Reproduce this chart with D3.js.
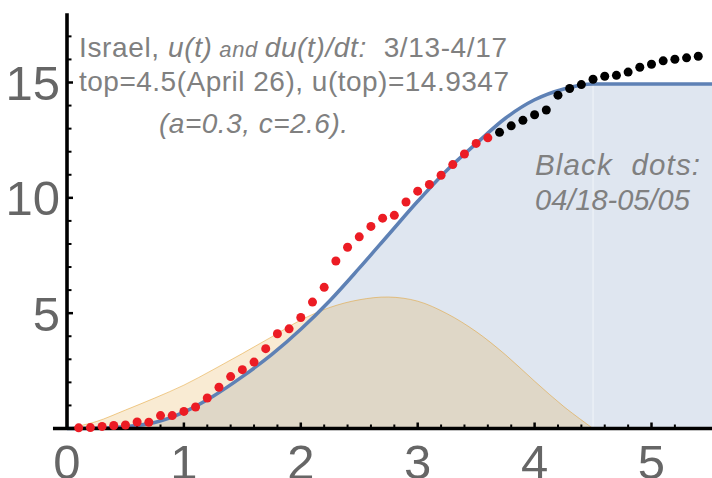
<!DOCTYPE html>
<html>
<head>
<meta charset="utf-8">
<script src="https://cdn.jsdelivr.net/npm/d3@7"></script>
<style>
  html, body { margin: 0; padding: 0; background: #fff; }
  svg { display: block; font-family: "Liberation Sans", Arial, sans-serif; }
  text { white-space: pre; }
</style>
</head>
<body>
<svg id="chart" width="712" height="478"></svg>
<script>
const width = 712;
const height = 478;

// model curve u(t)
const curveT = [0, 0.25, 0.5, 0.75, 1, 1.25, 1.5, 1.75, 2, 2.25, 2.5, 2.75, 3, 3.25, 3.5, 3.75, 4, 4.25, 4.5, 5.52];
const curveU = [0, 0.02, 0.08, 0.26, 0.71, 1.4, 2.25, 3.2, 4.3, 5.55, 6.95, 8.4, 9.85, 11.2, 12.35, 13.45, 14.25, 14.72, 14.9347, 14.9347];

// derivative du/dt
const derivT = [0, 0.25, 0.5, 0.75, 1, 1.25, 1.5, 1.75, 2, 2.25, 2.5, 2.75, 3, 3.25, 3.5, 3.75, 4, 4.25, 4.5];
const derivU = [0, 0.3, 0.8, 1.32, 1.88, 2.55, 3.25, 3.97, 4.7, 5.25, 5.58, 5.7, 5.52, 4.98, 4.2, 3.2, 2.05, 0.95, 0];

// data 3/13-4/17 (red)
const redT = [0.1, 0.2, 0.3, 0.4, 0.5, 0.6, 0.7, 0.8, 0.9, 1.0, 1.1, 1.2, 1.3, 1.4, 1.5, 1.6, 1.7, 1.8,
  1.9, 2.0, 2.1, 2.2, 2.3, 2.4, 2.5, 2.6, 2.7, 2.8, 2.9, 3.0, 3.1, 3.2, 3.3, 3.4, 3.5, 3.6];
const redU = [0.03, 0.04, 0.09, 0.13, 0.15, 0.28, 0.27, 0.56, 0.56, 0.74, 0.93, 1.32, 1.79, 2.25, 2.55, 2.88, 3.46, 4.11,
  4.32, 4.81, 5.48, 6.12, 7.26, 7.86, 8.31, 8.76, 9.12, 9.24, 9.82, 10.29, 10.58, 10.98, 11.44, 11.9, 12.36, 12.6];

// data 04/18-05/05 (black)
const blackT = [3.7, 3.8, 3.9, 4.0, 4.1, 4.2, 4.3, 4.4, 4.5, 4.6, 4.7, 4.8, 4.9, 5.0, 5.1, 5.2, 5.3, 5.4];
const blackU = [12.84, 13.12, 13.36, 13.6, 13.81, 14.45, 14.74, 14.91, 15.14, 15.27, 15.31, 15.45, 15.66, 15.79, 15.94, 16.01, 16.07, 16.14];

const xTicks = [0, 1, 2, 3, 4, 5];
const yTicks = [5, 10, 15];
const topT = 4.5;
const topU = 14.9347;

const x = d3.scaleLinear().domain([0, 5]).range([67, 651.5]);
const y = d3.scaleLinear().domain([0, 15]).range([428.5, 82.5]);
const xMin = -0.12, xMax = 5.52, yMax = 18;

const svg = d3.select("#chart");

const zip = (ts, us) => ts.map((t, i) => [t, us[i]]);

const area = d3.area()
  .x(d => x(d[0]))
  .y0(y(0))
  .y1(d => y(d[1]));
const line = d3.line()
  .x(d => x(d[0]))
  .y(d => y(d[1]));

const blue = "#5E81B5";
const orange = "#E19C24";

// fills
svg.append("path")
  .datum(zip(curveT, curveU))
  .attr("d", area.curve(d3.curveMonotoneX))
  .attr("fill", blue)
  .attr("fill-opacity", 0.2);
svg.append("path")
  .datum(zip(derivT, derivU))
  .attr("d", area.curve(d3.curveCatmullRom.alpha(0.5)))
  .attr("fill", orange)
  .attr("fill-opacity", 0.2);

// seam where the fill is split at top
svg.append("line")
  .attr("x1", x(topT)).attr("x2", x(topT))
  .attr("y1", y(0)).attr("y2", y(topU))
  .attr("stroke", "#fff")
  .attr("stroke-opacity", 0.6)
  .attr("stroke-width", 1);

svg.append("path")
  .datum(zip(derivT, derivU))
  .attr("d", line.curve(d3.curveCatmullRom.alpha(0.5)))
  .attr("fill", "none")
  .attr("stroke", orange)
  .attr("stroke-opacity", 0.5)
  .attr("stroke-width", 1);

svg.append("path")
  .datum(zip(curveT, curveU))
  .attr("d", line.curve(d3.curveMonotoneX))
  .attr("fill", "none")
  .attr("stroke", blue)
  .attr("stroke-width", 3.5);

// axes
const axes = svg.append("g");
axes.append("line")
  .attr("x1", x(xMin)).attr("x2", x(xMax))
  .attr("y1", y(0)).attr("y2", y(0))
  .attr("stroke", "#000").attr("stroke-width", 3.6);
axes.append("line")
  .attr("x1", x(0)).attr("x2", x(0))
  .attr("y1", y(0)).attr("y2", y(yMax))
  .attr("stroke", "#000").attr("stroke-width", 3.6);

const xMinor = d3.range(0, 27).map(i => i * 0.2).filter(v => v > 0.1);
axes.selectAll(".xt")
  .data(xMinor)
  .join("line")
  .attr("x1", d => x(d)).attr("x2", d => x(d))
  .attr("y1", y(0))
  .attr("y2", d => y(0) - (Math.abs(d - Math.round(d)) < 1e-6 ? 6 : 4))
  .attr("stroke", "#000")
  .attr("stroke-width", d => Math.abs(d - Math.round(d)) < 1e-6 ? 2.5 : 2);

const yMinor = d3.range(1, 18);
axes.selectAll(".yt")
  .data(yMinor)
  .join("line")
  .attr("y1", d => y(d)).attr("y2", d => y(d))
  .attr("x1", x(0))
  .attr("x2", d => x(0) + (d % 5 === 0 ? 6 : 4.5))
  .attr("stroke", "#000")
  .attr("stroke-width", d => d % 5 === 0 ? 2.5 : 2);

const tickColor = "#666666";
axes.selectAll(".xl")
  .data(xTicks)
  .join("text")
  .attr("x", d => x(d))
  .attr("y", 479)
  .attr("text-anchor", "middle")
  .attr("font-size", 49)
  .attr("fill", tickColor)
  .text(d => d);
axes.selectAll(".yl")
  .data(yTicks)
  .join("text")
  .attr("x", 60)
  .attr("y", d => y(d) + 17.5)
  .attr("text-anchor", "end")
  .attr("font-size", 49)
  .attr("fill", tickColor)
  .text(d => d);

// dots
svg.append("g").selectAll("circle")
  .data(zip(redT, redU))
  .join("circle")
  .attr("cx", d => x(d[0]))
  .attr("cy", d => y(d[1]))
  .attr("r", 4.5)
  .attr("fill", "#ec1c24");
svg.append("g").selectAll("circle")
  .data(zip(blackT, blackU))
  .join("circle")
  .attr("cx", d => x(d[0]))
  .attr("cy", d => y(d[1]))
  .attr("r", 4.5)
  .attr("fill", "#000");

// annotations
const noteColor = "#808080";
const t1 = svg.append("text")
  .attr("x", 79).attr("y", 57)
  .attr("font-size", 28)
  .attr("textLength", 428)
  .attr("lengthAdjust", "spacing")
  .attr("fill", noteColor);
t1.append("tspan").text("Israel, ");
t1.append("tspan").attr("font-style", "italic").text("u(t)");
t1.append("tspan").attr("font-style", "italic").attr("font-size", 22).text(" and ");
t1.append("tspan").attr("font-style", "italic").text("du(t)/dt:");
t1.append("tspan").text("  3/13-4/17");

svg.append("text")
  .attr("x", 79).attr("y", 91)
  .attr("font-size", 28)
  .attr("textLength", 430)
  .attr("lengthAdjust", "spacing")
  .attr("fill", noteColor)
  .text("top=4.5(April 26), u(top)=14.9347");

svg.append("text")
  .attr("x", 159).attr("y", 133)
  .attr("font-size", 28)
  .attr("textLength", 189)
  .attr("lengthAdjust", "spacing")
  .attr("font-style", "italic")
  .attr("fill", noteColor)
  .text("(a=0.3, c=2.6).");

svg.append("text")
  .attr("x", 535).attr("y", 175)
  .attr("font-size", 29.5)
  .attr("textLength", 165)
  .attr("lengthAdjust", "spacing")
  .attr("font-style", "italic")
  .attr("fill", noteColor)
  .text("Black  dots:");
svg.append("text")
  .attr("x", 535).attr("y", 210)
  .attr("font-size", 29)
  .attr("font-style", "italic")
  .attr("fill", noteColor)
  .text("04/18-05/05");
</script>
</body>
</html>
